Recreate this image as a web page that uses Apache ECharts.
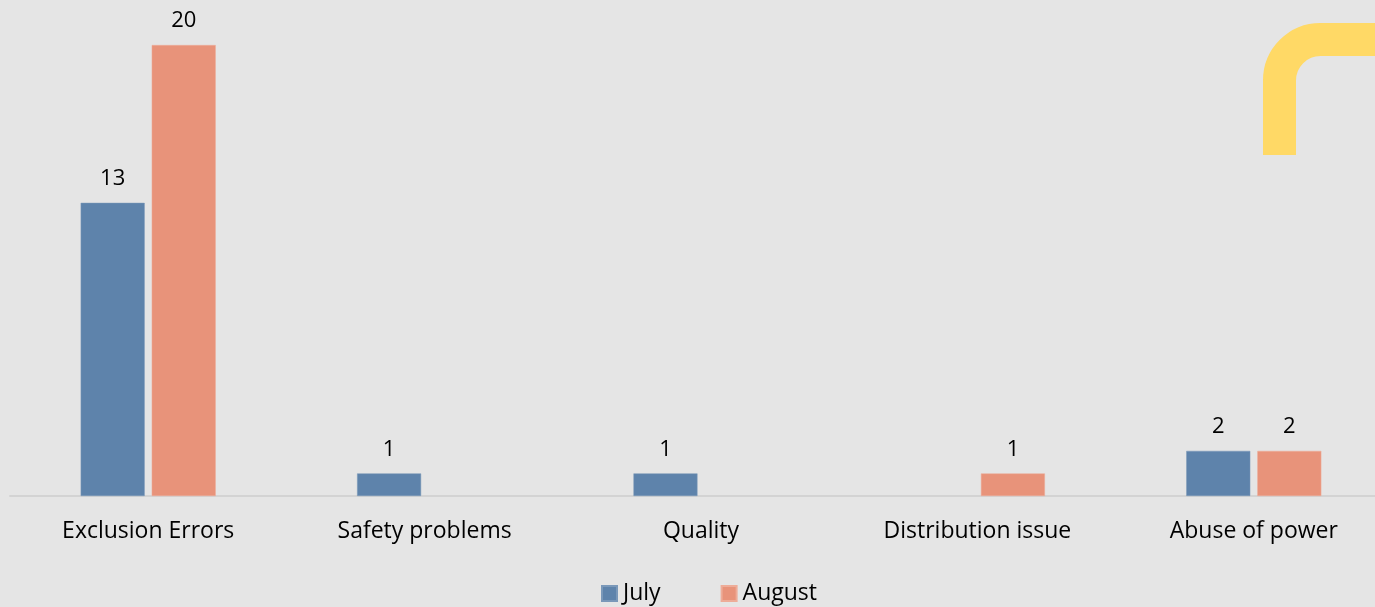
<!DOCTYPE html>
<html>
<head>
<meta charset="utf-8">
<script src="https://cdn.jsdelivr.net/npm/echarts@6/dist/echarts.min.js"></script>
<style>
  html, body { margin: 0; padding: 0; background: #e5e5e5; overflow: hidden; }
  #chart { width: 1400px; height: 607px; }
</style>
</head>
<body>
<div id="chart"></div>
<script>
// Complaint counts by category, July vs August
const categories = ['Exclusion Errors', 'Safety problems', 'Quality', 'Distribution issue', 'Abuse of power'];
const julyValues = [13, 1, 1, '-', 2];
const augustValues = [20, '-', '-', 1, 2];
const seriesNames = ['July', 'August'];

const FONT = '"Open Sans", sans-serif';
const TEXT_SIZE = 23;
const YELLOW = '#ffd966';
const BRACKET_W = 33;

const chart = echarts.init(document.getElementById('chart'), null, { renderer: 'canvas' });

const barLabel = {
  show: true,
  position: 'top',
  distance: 13,
  color: '#000',
  fontFamily: FONT,
  fontSize: 22
};

const bracketStyle = { stroke: YELLOW, lineWidth: BRACKET_W, fill: null, lineCap: 'butt' };

chart.setOption({
  backgroundColor: '#e5e5e5',
  animation: false,
  grid: { left: 10, right: 8, top: 45, bottom: 111, containLabel: false },
  legend: {
    data: seriesNames,
    bottom: -3,
    left: 596,
    itemWidth: 15,
    itemHeight: 15,
    itemGap: 60,
    icon: 'rect',
    textStyle: { color: '#000', fontFamily: FONT, fontSize: TEXT_SIZE, padding: [0, 0, 0, 1] }
  },
  xAxis: {
    type: 'category',
    data: categories,
    axisLine: { show: true, lineStyle: { color: '#d3d3d3', width: 2 } },
    axisTick: { show: false },
    axisLabel: { color: '#000', fontFamily: FONT, fontSize: TEXT_SIZE, margin: 24 }
  },
  yAxis: {
    type: 'value',
    min: 0,
    max: 20,
    show: false,
    splitLine: { show: false }
  },
  series: [
    {
      name: seriesNames[0],
      type: 'bar',
      data: julyValues,
      barWidth: 64,
      barGap: '11%',
      itemStyle: { color: '#5e83ab', borderColor: '#7a98b9', borderWidth: 0.5 },
      label: barLabel
    },
    {
      name: seriesNames[1],
      type: 'bar',
      data: augustValues,
      barWidth: 64,
      itemStyle: { color: '#e8937a', borderColor: '#eeac98', borderWidth: 0.5 },
      label: barLabel
    }
  ],
  // decorative rounded corner bracket, top right
  graphic: [
    {
      type: 'line',
      shape: { x1: 1279.5, y1: 155, x2: 1279.5, y2: 79 },
      style: bracketStyle,
      z: 10
    },
    {
      type: 'arc',
      shape: { cx: 1320.5, cy: 80.5, r: 41, startAngle: Math.PI, endAngle: Math.PI * 1.5, clockwise: true },
      style: bracketStyle,
      z: 10
    },
    {
      type: 'line',
      shape: { x1: 1319, y1: 39.5, x2: 1400, y2: 39.5 },
      style: bracketStyle,
      z: 10
    }
  ]
});
</script>
</body>
</html>
